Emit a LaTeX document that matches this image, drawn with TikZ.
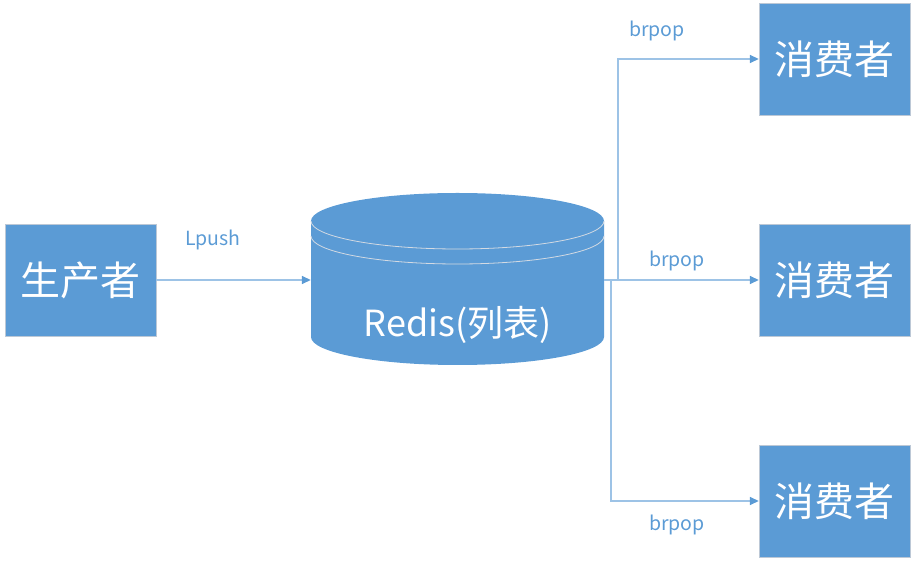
\documentclass[tikz,border=0pt]{standalone}
\usepackage{fontspec}
\setmainfont{Noto Sans CJK SC}
\usetikzlibrary{arrows.meta}
\definecolor{boxblue}{HTML}{5B9BD5}
\definecolor{linkblue}{HTML}{9DC3E6}
\definecolor{rimgrey}{HTML}{D3DAE3}
\definecolor{edgegrey}{HTML}{BCC8D6}
\tikzset{
  role/.style={draw=edgegrey, fill=boxblue, text=white, minimum width=151pt, minimum height=112pt, inner sep=0pt, font={\fontsize{40pt}{44pt}\selectfont}},
  link/.style={draw=linkblue, line width=1.5pt, -{Triangle[length=9pt,width=8pt,color=boxblue]}},
  op/.style={text=boxblue, font={\fontsize{19.5pt}{22pt}\selectfont}}}

\begin{document}
\begin{tikzpicture}[x=1pt,y=1pt]
\useasboundingbox (0,0) rectangle (916,565);
\node (prod) [role] at (80.5,285) {生产者};
\node (cons1) [role] at (834.5,506) {消费者};
\node (cons2) [role] at (834.5,285) {消费者};
\node (cons3) [role] at (834.5,64) {消费者};
\node (redis) [minimum width=293pt, minimum height=172pt, inner sep=0pt] at (457.5,285) {};
\fill[boxblue] (311,344) -- (311,228) arc[start angle=180, end angle=360, x radius=146.5, y radius=28] -- (604,344) arc[start angle=0, end angle=180, x radius=146.5, y radius=28] -- cycle;
\draw[rimgrey, line width=0.8pt] (311,344) arc[start angle=180, end angle=360, x radius=146.5, y radius=28];
\draw[rimgrey, line width=0.8pt] (311,329) arc[start angle=180, end angle=360, x radius=146.5, y radius=28];
\node (redislbl) [text=white, font={\fontsize{36pt}{40pt}\selectfont}] at (457.5,240) {Redis(列表)};
\coordinate (upfork) at (618,285);
\coordinate (downfork) at (611,285);
\draw[link] (prod) -- (redis);
\draw[link] (redis) -- (cons2);
\draw[link] (redis.east) -- (upfork) |- (cons1);
\draw[link] (downfork) |- (cons3);
\node (pushlbl) [op] at (213,325) {Lpush};
\node (poplbl1) [op] at (657,534) {brpop};
\node (poplbl2) [op] at (677,304) {brpop};
\node (poplbl3) [op] at (677,40) {brpop};
\end{tikzpicture}
\end{document}
